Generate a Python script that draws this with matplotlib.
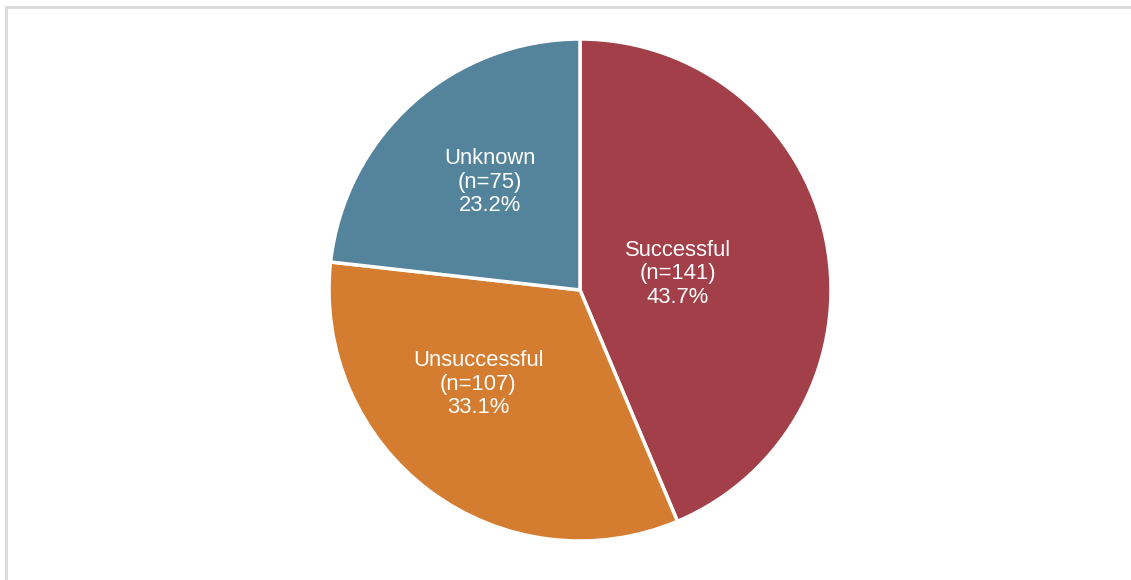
import matplotlib
matplotlib.use("Agg")
import matplotlib.pyplot as plt
from matplotlib.patches import Rectangle

# Outcome breakdown
categories = ["Successful", "Unsuccessful", "Unknown"]
counts = [141, 107, 75]
percents = [43.7, 33.1, 23.2]
colors = ["#A33F48", "#D47C2F", "#54849B"]

plt.rcParams["font.family"] = ["Liberation Sans", "DejaVu Sans"]

W, H = 1131, 580
fig = plt.figure(figsize=(W / 100, H / 100), dpi=100)

# light grey frame around the chart area
fig.patches.append(Rectangle((6 / W, -0.01), 1.2, (H - 7) / H + 0.01,
                             transform=fig.transFigure, fill=False,
                             edgecolor="#d9d9d9", linewidth=2))

cx, cy, r = 580, 290, 251
ax = fig.add_axes([(cx - r) / W, (H - cy - r) / H, 2 * r / W, 2 * r / H])

wedges, _ = ax.pie(counts, colors=colors, startangle=90, counterclock=False,
                   radius=1, wedgeprops=dict(edgecolor="white", linewidth=2.5))
ax.set_xlim(-1, 1)
ax.set_ylim(-1, 1)
ax.set_aspect("equal")
ax.axis("off")

# label anchor points in pie-radius units
label_pos = [(0.39, 0.065), (-0.405, -0.375), (-0.36, 0.43)]
for name, n, p, (x, y) in zip(categories, counts, percents, label_pos):
    ax.text(x, y, f"{name}\n(n={n})\n{p:.1f}%", ha="center", va="center",
            color="white", fontsize=15.8, linespacing=1.16)

fig.savefig("out.png", dpi=100)
